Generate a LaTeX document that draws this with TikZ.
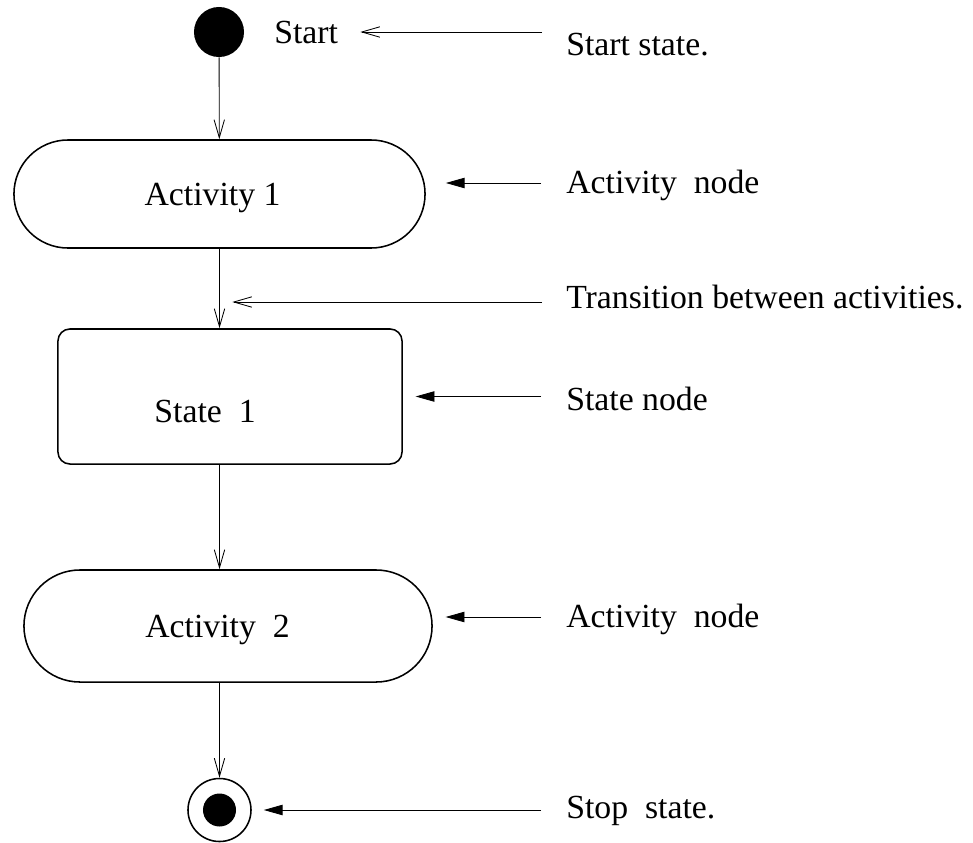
\documentclass[tikz,border=0pt]{standalone}
\usepackage{fontspec}
\setmainfont{Liberation Serif}
\usetikzlibrary{arrows.meta,positioning,shapes.misc}
\tikzset{
  activity/.style={rounded rectangle,draw,line width=1.1pt,minimum height=2.7cm,inner sep=0pt},
  statebox/.style={rectangle,rounded corners=0.3cm,draw,line width=1.1pt,minimum width=8.6cm,minimum height=3.375cm},
  dot/.style={circle,fill,inner sep=0pt},
  boxtext/.style={anchor=base,inner sep=0pt},
  note/.style={anchor=base west,inner sep=0pt},
  flow/.style={-{Straight Barb[length=4.5mm,width=2.6mm]},line width=0.6pt},
  pointer/.style={-{Triangle[length=4.7mm,width=2.6mm]},line width=0.6pt,shorten <=0.62cm}
}
\begin{document}
\begin{tikzpicture}[x=0.025cm,y=-0.025cm,font=\fontsize{24}{29}\selectfont]
  \useasboundingbox (0,0) rectangle (973,842);
  % flow nodes
  \node[dot,minimum size=1.25cm] (start) at (219,32) {};
  \node[note] (startlbl) at (274,43) {Start};
  \node[activity,minimum width=10.275cm] (act1) at (219.5,194) {};
  \node[boxtext] (act1txt) at (212.5,205) {Activity 1};
  \node[statebox] (state1) at (230,396.5) {};
  \node[boxtext] (state1txt) at (205,422) {State\ \ 1};
  \node[activity,minimum width=10.2cm,minimum height=2.8cm] (act2) at (228,626) {};
  \node[boxtext] (act2txt) at (217.5,637) {Activity\ \ 2};
  \node[circle,draw,line width=1.1pt,minimum size=1.575cm,inner sep=0pt] (stop) at (219.5,810) {};
  \node[dot,minimum size=0.825cm] (stopdot) at (stop) {};
  % notes on the right
  \node[note] (n1) at (566,55) {Start state.};
  \node[note] (n2) at (566,193) {Activity\ \ node};
  \node[note] (n3) at (566,308) {Transition between activities.};
  \node[note] (n4) at (566,410) {State node};
  \node[note] (n5) at (566,627) {Activity\ \ node};
  \node[note] (n6) at (566,818) {Stop\ \ state.};
  % transitions
  \draw[flow] (start) -- (act1);
  \draw[flow] (act1) -- (act1.south |- state1.north);
  \draw[flow] (act1.south |- state1.south) -- (act1.south |- act2.north);
  \draw[flow] (act1.south |- act2.south) -- (stop);
  % pointers
  \draw[flow,shorten <=0.6cm,shorten >=0.55cm] (n1.west |- startlbl) -- (startlbl.east);
  \draw[pointer,shorten >=0.5cm] ([yshift=0.25cm]n2.base west) -- ([yshift=0.25cm]n2.base west -| act1.east);
  \draw[flow,shorten <=0.6cm,shorten >=0.32cm] ([yshift=0.15cm]n3.base west) -- ([yshift=0.15cm]n3.base west -| act1.south);
  \draw[pointer,shorten >=0.32cm] (n4.west |- state1) -- (state1.east);
  \draw[pointer,shorten >=0.32cm] ([yshift=0.25cm]n5.base west) -- ([yshift=0.25cm]n5.base west -| act2.east);
  \draw[pointer,shorten >=0.3cm] (n6.west |- stop) -- (stop.east);
\end{tikzpicture}
\end{document}
